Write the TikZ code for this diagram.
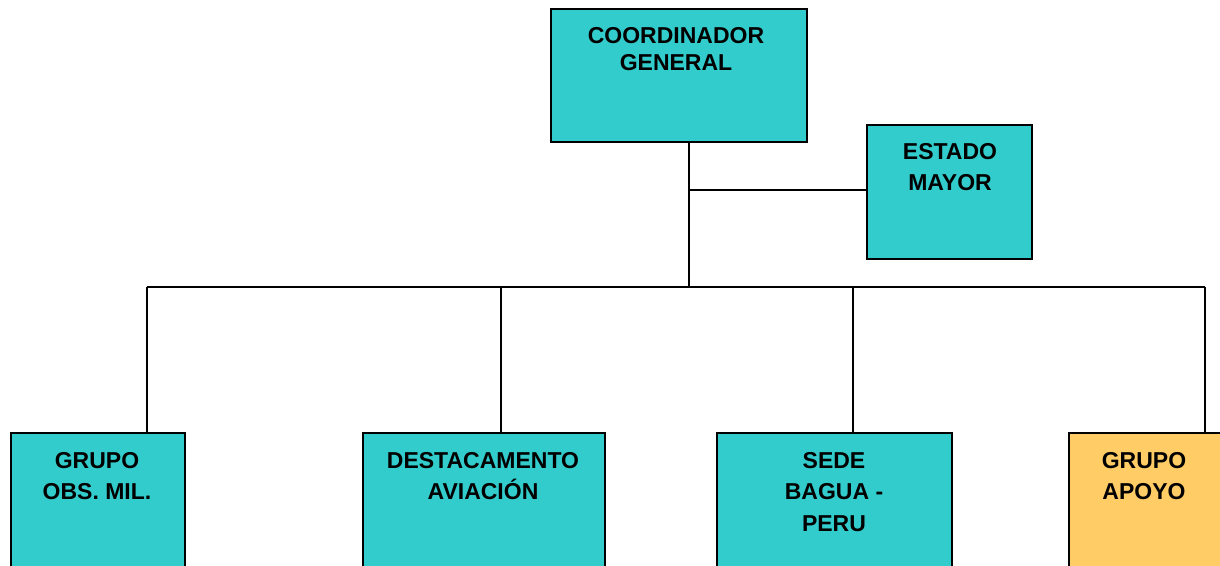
\documentclass[tikz,border=0pt]{standalone}
\usepackage{fontspec}
\setmainfont{Liberation Sans}
\definecolor{tealbox}{HTML}{33CCCC}
\definecolor{orangebox}{HTML}{FFCC66}
\begin{document}
\begin{tikzpicture}[x=0.75pt,y=-0.75pt,
  box/.style={draw=black,line width=1.6pt,fill=tealbox,inner sep=0pt,outer sep=0pt,anchor=north west},
  lbl/.style={font=\fontsize{17.25}{23.5}\selectfont\bfseries,align=center,inner sep=0pt,anchor=north},
  conn/.style={draw=black,line width=1.1pt}]
\useasboundingbox (0,0) rectangle (1220,565);
\clip (0,0) rectangle (1220,565);
\fill[white] (0,0) rectangle (1220,565);
% boxes
\node[box,minimum width=192pt,minimum height=99.75pt] (cg) at (551,9) {};
\node[box,minimum width=123.75pt,minimum height=100.5pt] (em) at (867,125) {};
\node[box,minimum width=130.5pt,minimum height=125pt] (gom) at (11,433) {};
\node[box,minimum width=181.5pt,minimum height=125pt] (da) at (363,433) {};
\node[box,minimum width=176.25pt,minimum height=125pt] (sb) at (717,433) {};
\node[box,fill=orangebox,minimum width=128.25pt,minimum height=125pt] (ga) at (1069,433) {};
% labels
\node[lbl,font=\fontsize{17.25}{20.25}\selectfont\bfseries] (tcg) at (676,27) {COORDINADOR\\GENERAL};
\node[lbl] (tem) at (950,143) {ESTADO\\MAYOR};
\node[lbl] (tgom) at (97,452) {GRUPO\\OBS. MIL.};
\node[lbl] (tda) at (483,452) {DESTACAMENTO\\AVIACIÓN};
\node[lbl] (tsb) at (834,452) {SEDE\\BAGUA -\\PERU};
\node[lbl] (tga) at (1144,452) {GRUPO\\APOYO};
% junctions
\coordinate (j1) at (689,190);
\coordinate (j2) at (689,287);
\coordinate (bl) at (147,287);
\coordinate (b2) at (501,287);
\coordinate (b3) at (853,287);
\coordinate (br) at (1205,287);
% connectors
\draw[conn] (cg.south -| j1) -- (j2);
\draw[conn] (j1) -- (j1 -| em.west);
\draw[conn] (bl) -- (br);
\draw[conn] (bl) -- (bl |- gom.north);
\draw[conn] (b2) -- (b2 |- da.north);
\draw[conn] (b3) -- (b3 |- sb.north);
\draw[conn] (br) -- (br |- ga.north);
\end{tikzpicture}
\end{document}
